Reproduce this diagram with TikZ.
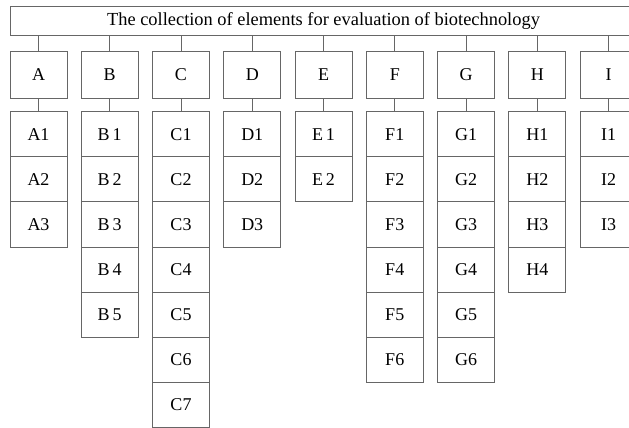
\documentclass[tikz,border=0pt]{standalone}
\usepackage{fontspec}
\setmainfont{Liberation Serif}
\begin{document}
\begin{tikzpicture}[x=1pt,y=-1pt,
  lw/.style={line width=1pt, draw=black!60},
  box/.style={lw, rectangle, inner sep=0pt, minimum width=57pt, font=\fontsize{18}{22}\selectfont, text=black},
  titlebox/.style={lw, rectangle, inner sep=0pt, minimum width=627pt, minimum height=29pt, font=\fontsize{18.4}{22}\selectfont},
  conn/.style={lw}]
\useasboundingbox (0,0) rectangle (629,428);
\clip (0,0) rectangle (629,428);
\node[titlebox] (title) at (323.5,21.5) {The collection of elements for evaluation of biotechnology};
\foreach \c/\n/\s [count=\i from 0] in {A/3/,B/5/\,,C/7/,D/3/,E/2/\,,F/6/,G/6/,H/4/,I/3/} {
  \node[box, minimum height=46pt] (\c) at ({38.5+71.25*\i},75) {\c};
  \draw[conn] (\c.north) -- (\c.north |- title.south);
  \foreach \k in {1,...,\n} {
    \node[box, minimum height=45.1pt] (\c\k) at ({38.5+71.25*\i},{111.7+45.1*(\k-0.5)}) {\c\s\k};
  }
  \draw[conn] (\c.south) -- (\c1.north);
}
\end{tikzpicture}
\end{document}
